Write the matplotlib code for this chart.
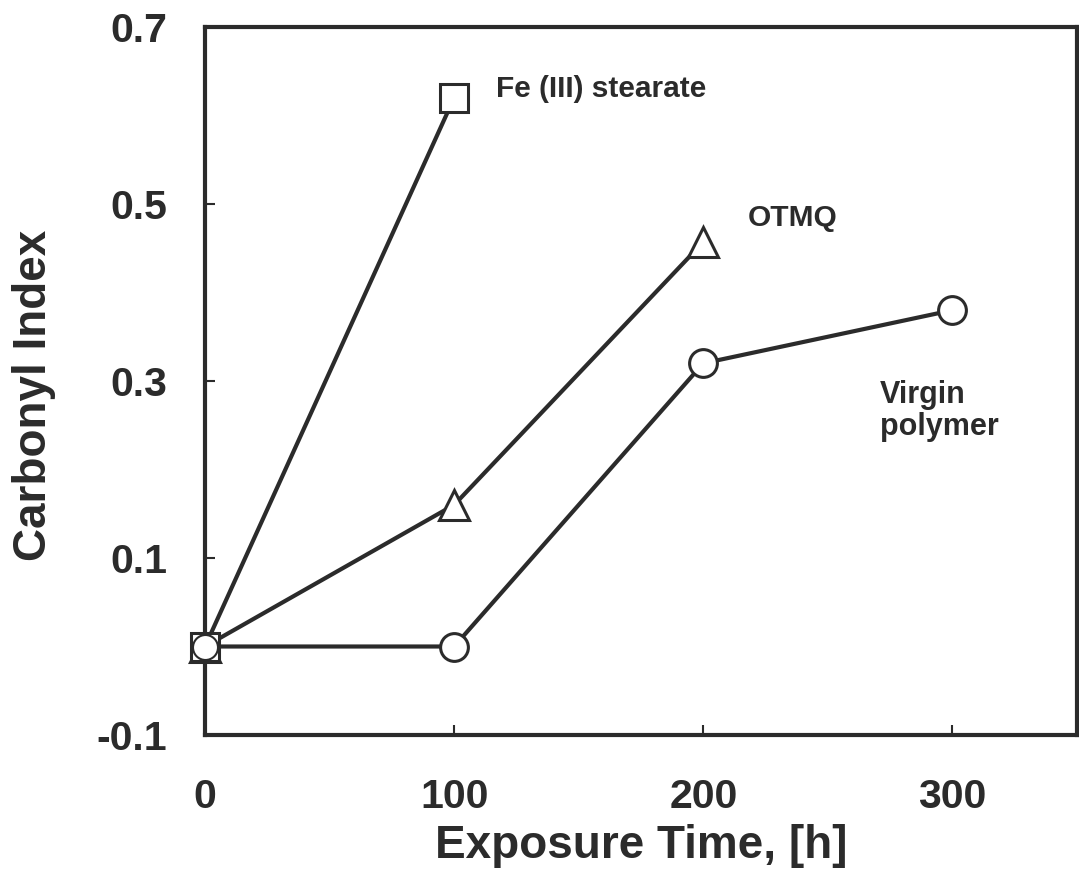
import matplotlib.pyplot as plt

# data
time_fe = [0, 100]
ci_fe = [0.0, 0.62]

time_otmq = [0, 100, 200]
ci_otmq = [0.0, 0.16, 0.457]

time_virgin = [0, 100, 200, 300]
ci_virgin = [0.0, 0.0, 0.32, 0.38]

x_ticks = [0, 100, 200, 300]
y_ticks = [-0.1, 0.1, 0.3, 0.5, 0.7]

ink = '#2b2b2b'
plt.rcParams['font.family'] = ['Liberation Sans', 'DejaVu Sans']
plt.rcParams['font.weight'] = 'bold'

fig = plt.figure(figsize=(10.79, 8.74), dpi=100)
ax = fig.add_axes([205 / 1079, 1 - 735 / 874, 872 / 1079, 708 / 874])

style = dict(color=ink, lw=3.0, markerfacecolor='white', markeredgecolor=ink,
             markeredgewidth=2.2, clip_on=False, zorder=3)
ax.plot(time_virgin, ci_virgin, marker='o', markersize=20, **style)
ax.plot(time_otmq, ci_otmq, marker='^', markersize=21, **style)
ax.plot(time_fe, ci_fe, marker='s', markersize=20, **style)
# circle drawn on top of the square at the origin, as in the original
ax.plot(time_virgin[:1], ci_virgin[:1], marker='o', markersize=18, ls='none',
        color=ink, markerfacecolor='white', markeredgewidth=1.5, clip_on=False, zorder=4)

ax.set_xlim(0, 350)
ax.set_ylim(-0.1, 0.7)
ax.set_xticks(x_ticks)
ax.set_yticks(y_ticks)
ax.set_yticklabels(['-0.1', '0.1', '0.3', '0.5', '0.7'])
ax.tick_params(direction='in', length=7, width=1.5, color=ink, labelcolor=ink,
               labelsize=29.5)
ax.tick_params(axis='y', pad=27)
ax.tick_params(axis='x', pad=31)
for s in ax.spines.values():
    s.set_linewidth(3.0)
    s.set_color(ink)

ax.set_xlabel('Exposure Time, [h]', fontsize=33, fontweight='bold', color=ink, labelpad=6)
ax.set_ylabel('Carbonyl Index', fontsize=33, fontweight='bold', color=ink)
ax.yaxis.set_label_coords(-0.171, 0.48)

ax.text(117, 0.63, 'Fe (III) stearate', fontsize=21.5, fontweight='bold', color=ink,
        va='center', ha='left')
ax.text(218, 0.484, 'OTMQ', fontsize=21.5, fontweight='bold', color=ink,
        va='center', ha='left')
ax.text(271, 0.266, 'Virgin\npolymer', fontsize=22, fontweight='bold', color=ink,
        va='center', ha='left', linespacing=1.1)

fig.savefig('out.png', dpi=100)
